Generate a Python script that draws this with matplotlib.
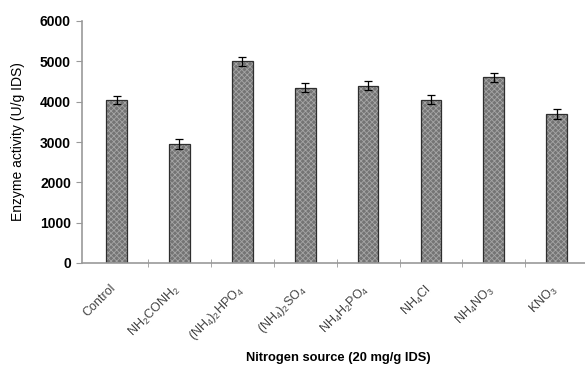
import numpy as np
import matplotlib
matplotlib.use("Agg")
from matplotlib import pyplot as plt
from matplotlib.transforms import ScaledTranslation

plt.rcParams['font.family'] = ['Liberation Sans', 'DejaVu Sans']
plt.rcParams['mathtext.fontset'] = 'custom'
plt.rcParams['mathtext.rm'] = 'Liberation Sans'
plt.rcParams['mathtext.it'] = 'Liberation Sans:italic'
plt.rcParams['mathtext.bf'] = 'Liberation Sans:bold'
plt.rcParams['hatch.linewidth'] = 0.6

# fuentes de nitrogeno y actividad enzimatica
fuentes = ['Control', r'NH$_2$CONH$_2$', r'(NH$_4$)$_2$HPO$_4$', r'(NH$_4$)$_2$SO$_4$',
           r'NH$_4$H$_2$PO$_4$', r'NH$_4$Cl', r'NH$_4$NO$_3$', r'KNO$_3$']
actividad = [4050, 2950, 5000, 4350, 4400, 4050, 4600, 3700]
error = [100, 130, 110, 110, 120, 120, 120, 120]

fig = plt.figure(figsize=(5.85, 3.65), dpi=100)
ax = fig.add_axes([82/585, 102/365, 503/585, 242/365])

x = np.arange(len(fuentes))
# relleno con trama y luego el borde
ax.bar(x, actividad, width=0.33, color='#747474', edgecolor='#a5a5a5',
       hatch='xxxxxx', linewidth=0, zorder=2)
ax.bar(x, actividad, width=0.33, color='none', edgecolor='#2e2e2e',
       linewidth=0.9, zorder=2)
ax.errorbar(x, actividad, yerr=error, fmt='none', ecolor='black',
            elinewidth=0.9, capsize=3, capthick=0.9, zorder=3)

ax.set_xlim(-0.55, 7.45)
ax.set_ylim(0, 6000)
ax.set_yticks(np.arange(0, 6001, 1000))
ax.tick_params(axis='y', labelsize=10, length=4, color='#999999', pad=4)
for t in ax.get_yticklabels():
    t.set_fontweight('bold')

ax.set_xticks(x)
ax.set_xticklabels(fuentes, rotation=45, ha='right', va='top',
                   rotation_mode='anchor', fontsize=9, color='#444444')
ax.tick_params(axis='x', which='major', length=0, pad=6)
desplaza = ScaledTranslation(-5/72, -8/72, fig.dpi_scale_trans)
for t in ax.get_xticklabels():
    t.set_transform(t.get_transform() + desplaza)
ax.set_xticks(x[:-1] + 0.5, minor=True)
ax.tick_params(axis='x', which='minor', direction='inout', length=6, color='#999999')

for s in ['top', 'right']:
    ax.spines[s].set_visible(False)
for s in ['left', 'bottom']:
    ax.spines[s].set_color('#999999')
    ax.spines[s].set_linewidth(1.2)

ax.set_ylabel('Enzyme activity (U/g IDS)', fontsize=10, labelpad=11)
fig.text(0.578, 7/365, 'Nitrogen source (20 mg/g IDS)', ha='center', va='center',
         fontsize=9.3, fontweight='bold')

fig.savefig('out.png', dpi=100)
